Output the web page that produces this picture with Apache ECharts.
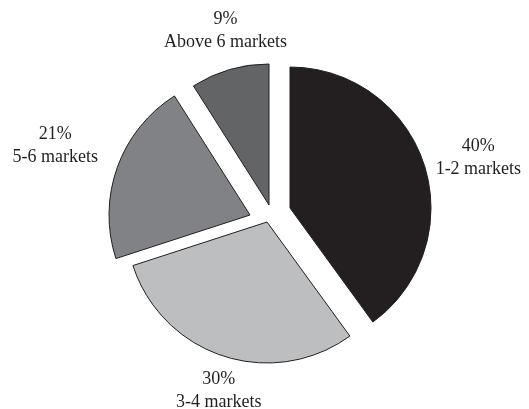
<!DOCTYPE html>
<html>
<head>
<meta charset="utf-8">
<script src="https://cdn.jsdelivr.net/npm/echarts@6/dist/echarts.min.js"></script>
<style>
    html, body { margin: 0; padding: 0; background: #fff; }
    #marketsPie { width: 529px; height: 409px; }
</style>
</head>
<body>
<div id="marketsPie"></div>
<script>
// data
const categories = ['1-2 markets', '3-4 markets', '5-6 markets', 'Above 6 markets']
const shares = [40, 30, 21, 9]

// look of each slice (exploded pie: each slice drawn from its own apex)
const sliceColors = ['#231f20', '#bcbec0', '#808285', '#636466']
const sliceApex = [[290, 208], [267, 222], [250, 215], [269, 205]]
const labelNudge = [[40, -2], [0, 20], [-48, -16], [0, -24]]

const initPie = () => {
    const myChart = echarts.init(document.getElementById('marketsPie'))

    const series = categories.map((_, i) => ({
        name: categories[i],
        type: 'pie',
        silent: true,
        animation: false,
        emphasis: { disabled: true },
        avoidLabelOverlap: false,
        startAngle: 90,
        clockwise: true,
        center: sliceApex[i],
        radius: 141,
        label: {
            position: 'outside',
            fontFamily: 'Liberation Serif',
            fontSize: 18,
            lineHeight: 23,
            color: '#231f20',
            width: 150,
            distanceToLabelLine: 0,
            formatter: ({ name, value }) => `${value}%\n${name}`
        },
        labelLine: { show: false, length: 15, length2: 0 },
        labelLayout: () => ({
            align: 'center',
            verticalAlign: 'middle',
            dx: labelNudge[i][0],
            dy: labelNudge[i][1]
        }),
        data: categories.map((name, j) => ({
            name: name,
            value: shares[j],
            label: { show: j === i },
            itemStyle: j === i
                ? { color: sliceColors[j], borderColor: '#231f20', borderWidth: 1 }
                : { color: 'rgba(0,0,0,0)', borderWidth: 0 }
        }))
    }))

    myChart.setOption({
        backgroundColor: '#fff',
        series: series
    })
}
initPie()
</script>
</body>
</html>
